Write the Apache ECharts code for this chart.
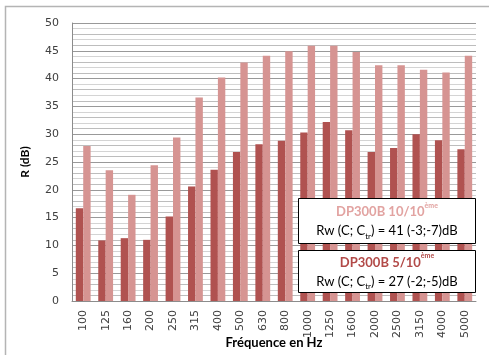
<!DOCTYPE html>
<html>
<head>
<meta charset="utf-8">
<script src="https://cdn.jsdelivr.net/npm/echarts@6/dist/echarts.min.js"></script>
<style>
  html, body { margin: 0; padding: 0; background: #fff; }
  #chart { width: 489px; height: 355px; }
</style>
</head>
<body>
<div id="chart"></div>
<script>
const frequencies = ['100', '125', '160', '200', '250', '315', '400', '500', '630', '800', '1000', '1250', '1600', '2000', '2500', '3150', '4000', '5000']
// DP300B 5/10ème
const dp5Values = [16.7, 10.9, 11.3, 11.0, 15.2, 20.6, 23.6, 26.8, 28.2, 28.8, 30.3, 32.2, 30.7, 26.8, 27.5, 30.0, 28.9, 27.3]
// DP300B 10/10ème
const dp10Values = [27.9, 23.5, 19.1, 24.4, 29.4, 36.6, 40.2, 42.9, 44.1, 44.9, 45.9, 45.9, 44.8, 42.4, 42.4, 41.6, 41.1, 44.1]

const darkRed = '#B05250'
const lightRed = '#D69492'
const labelFont = 'DejaVu Sans'
const boxFont = 'Lato'

const myChart = echarts.init(document.getElementById('chart'), null, { renderer: 'canvas' })

const boxText = (title, titleColor, rw) => ({
  type: 'text',
  style: {
    text: '{t|' + title + '}{sup|ème}\n{n|Rw (C; C}{sub|tr}{n|) = ' + rw + '}',
    align: 'center',
    verticalAlign: 'middle',
    rich: {
      t: { fontFamily: boxFont, fontWeight: 'bold', fontSize: 13, fill: titleColor, lineHeight: 20 },
      sup: { fontFamily: boxFont, fontWeight: 'bold', fontSize: 7, fill: titleColor, verticalAlign: 'top', lineHeight: 20 },
      n: { fontFamily: boxFont, fontSize: 13, fill: '#000', lineHeight: 18 },
      sub: { fontFamily: boxFont, fontSize: 8, fill: '#000', verticalAlign: 'bottom', lineHeight: 14 }
    }
  }
})

const option = {
  animation: false,
  grid: {
    left: 72,
    right: 13,
    top: 23,
    bottom: 54,
    outerBoundsMode: 'none'
  },
  xAxis: {
    type: 'category',
    data: frequencies,
    name: 'Fréquence en Hz',
    nameLocation: 'middle',
    nameGap: 35,
    nameMoveOverlap: false,
    nameTextStyle: { fontFamily: boxFont, fontWeight: 'bold', fontSize: 13, color: '#000' },
    axisLine: { lineStyle: { color: '#8C8C8C' } },
    axisTick: { show: false },
    axisLabel: {
      rotate: 90,
      margin: 9,
      fontFamily: labelFont,
      fontSize: 11,
      color: '#404040'
    }
  },
  yAxis: {
    type: 'value',
    min: 0,
    max: 50,
    interval: 1,
    name: 'R (dB)',
    nameLocation: 'middle',
    nameGap: 41,
    nameMoveOverlap: false,
    nameTextStyle: { fontFamily: boxFont, fontWeight: 'bold', fontSize: 12, color: '#000' },
    axisLine: { show: true, lineStyle: { color: '#8C8C8C' } },
    axisTick: { show: false },
    axisLabel: {
      margin: 13,
      fontFamily: labelFont,
      fontSize: 11,
      color: '#404040',
      formatter: (value) => value % 5 === 0 ? String(value) : ''
    },
    // every 5th line darker, the others light
    splitLine: {
      show: true,
      lineStyle: { color: ['#999999', '#BDBDBD', '#D4D4D4', '#BDBDBD', '#D4D4D4'], width: 1 }
    }
  },
  series: [
    {
      name: 'DP300B 5/10ème',
      type: 'bar',
      data: dp5Values,
      barGap: '0%',
      barCategoryGap: '34%',
      itemStyle: { color: darkRed }
    },
    {
      name: 'DP300B 10/10ème',
      type: 'bar',
      data: dp10Values,
      barGap: '0%',
      barCategoryGap: '34%',
      itemStyle: { color: lightRed }
    }
  ],
  graphic: [
    {
      type: 'rect',
      shape: { x: 5.5, y: 6.5, width: 520, height: 400 },
      style: { fill: 'none', stroke: '#B4B4B4', lineWidth: 1.5 },
      silent: true
    },
    {
      type: 'group',
      left: 298,
      top: 198,
      z: 100,
      children: [
        { type: 'rect', z: 100, shape: { x: 0.5, y: 0.5, width: 177, height: 45 }, style: { fill: '#fff', stroke: '#000', lineWidth: 1 } },
        Object.assign(boxText('DP300B 10/10', '#E2A3A1', '41 (-3;-7)dB'), { x: 89, y: 23, z: 101 })
      ]
    },
    {
      type: 'group',
      left: 298,
      top: 250,
      z: 100,
      children: [
        { type: 'rect', z: 100, shape: { x: 0.5, y: 0.5, width: 177, height: 42 }, style: { fill: '#fff', stroke: '#000', lineWidth: 1 } },
        Object.assign(boxText('DP300B 5/10', '#B24A48', '27 (-2;-5)dB'), { x: 89, y: 21.5, z: 101 })
      ]
    }
  ]
}

myChart.setOption(option)
</script>
</body>
</html>
